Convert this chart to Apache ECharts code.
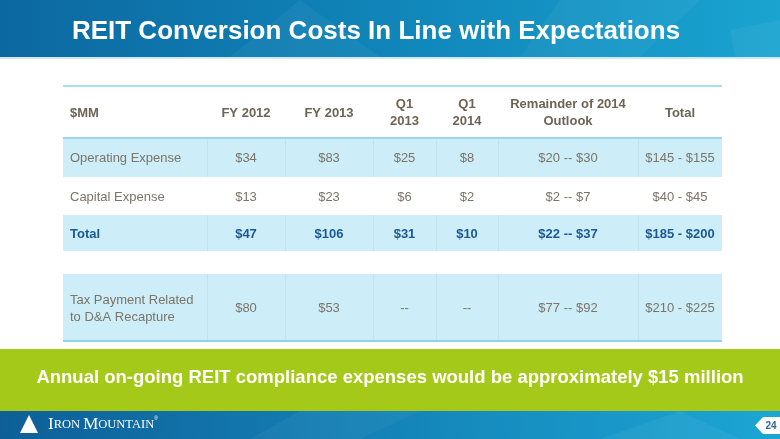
<!DOCTYPE html>
<html><head><meta charset="utf-8">
<script src="https://cdn.jsdelivr.net/npm/echarts@6/dist/echarts.min.js"></script>
<style>html,body{margin:0;padding:0;background:#fff}#c{width:780px;height:439px}</style>
</head><body><div id="c"></div>
<script>
// ---- data ----
const title = 'REIT Conversion Costs In Line with Expectations';
const headers = ['$MM', 'FY 2012', 'FY 2013', 'Q1\n2013', 'Q1\n2014', 'Remainder of 2014\nOutlook', 'Total'];
const rowLabels = ['Operating Expense', 'Capital Expense', 'Total', 'Tax Payment Related\nto D&A Recapture'];
const operatingExpense = ['$34', '$83', '$25', '$8', '$20 -- $30', '$145 - $155'];
const capitalExpense = ['$13', '$23', '$6', '$2', '$2 -- $7', '$40 - $45'];
const totalCosts = ['$47', '$106', '$31', '$10', '$22 -- $37', '$185 - $200'];
const taxPayment = ['$80', '$53', '--', '--', '$77 -- $92', '$210 - $225'];
const footnote = 'Annual on-going REIT compliance expenses would be approximately $15 million';
const pageNumber = '24';

// ---- layout (not data) ----
const colEdges = [0, 144, 222, 310, 373, 435, 575, 659];
const rowEdges = [[0, 52], [52, 91], [91, 129], [129, 165], [188, 255]];
const rowKinds = ['header', 'band', 'plain', 'total', 'band'];
const FONT = "'Liberation Sans', Arial, sans-serif";

const bodyRows = [operatingExpense, capitalExpense, totalCosts, taxPayment];
const cells = [];
headers.forEach((h, c) => cells.push([c, 0, h]));
bodyRows.forEach((vals, r) => {
  cells.push([0, r + 1, rowLabels[r]]);
  vals.forEach((v, c) => cells.push([c + 1, r + 1, v]));
});

function renderCell(params, api) {
  const d = cells[params.dataIndex];
  const col = d[0], row = d[1], txt = d[2];
  const kind = rowKinds[row];
  const p0 = api.coord([colEdges[col], rowEdges[row][0]]);
  const p1 = api.coord([colEdges[col + 1], rowEdges[row][1]]);
  const children = [];
  if (kind === 'band' || kind === 'total') {
    children.push({ type: 'rect', shape: { x: p0[0], y: p0[1], width: p1[0] - p0[0], height: p1[1] - p0[1] },
      style: { fill: '#cdeef8' } });
    if (col > 0) children.push({ type: 'line', shape: { x1: p0[0] + 0.5, y1: p0[1], x2: p0[0] + 0.5, y2: p1[1] },
      style: { stroke: '#bfe4f0', lineWidth: 1 } });
  }
  let fill = '#7c7467', weight = 'normal';
  if (kind === 'header') { fill = '#6c6455'; weight = 'bold'; }
  if (kind === 'total') { fill = '#1c5896'; weight = 'bold'; }
  const left = col === 0;
  children.push({ type: 'text', style: {
    text: txt, x: left ? p0[0] + 7 : (p0[0] + p1[0]) / 2, y: (p0[1] + p1[1]) / 2 + 1,
    align: left ? 'left' : 'center', verticalAlign: 'middle',
    fontFamily: FONT, fontSize: 13, fontWeight: weight, fill: fill, lineHeight: 17 } });
  return { type: 'group', children: children };
}

const ruleYs = [0, 52, 255];
const ruleColors = ['#a9e0f0', '#9bd8ec', '#8fd3ea'];
function renderRule(params, api) {
  const y = ruleYs[params.dataIndex];
  const a = api.coord([colEdges[0], y]), b = api.coord([colEdges[colEdges.length - 1], y]);
  return { type: 'line', shape: { x1: a[0], y1: a[1], x2: b[0], y2: b[1] },
    style: { stroke: ruleColors[params.dataIndex], lineWidth: 2 } };
}

const chart = echarts.init(document.getElementById('c'), null, { renderer: 'canvas' });
const blueGrad = new echarts.graphic.LinearGradient(0, 0, 1, 0, [
  { offset: 0, color: '#0c68a1' }, { offset: 0.55, color: '#1188bb' }, { offset: 1, color: '#1aa4d0' }]);
const blueGrad2 = new echarts.graphic.LinearGradient(0, 0, 1, 0, [
  { offset: 0, color: '#0e5f98' }, { offset: 0.55, color: '#1587bb' }, { offset: 1, color: '#1ca6d3' }]);

chart.setOption({
  animation: false,
  grid: { left: 63, top: 86, width: 659, height: 255 },
  xAxis: { type: 'value', min: 0, max: 659, show: false },
  yAxis: { type: 'value', min: 0, max: 255, inverse: true, show: false },
  graphic: [
    // header band
    { type: 'rect', shape: { x: 0, y: 0, width: 780, height: 57 }, style: { fill: blueGrad }, z: 0 },
    { type: 'polygon', shape: { points: [[300, 0], [380, 57], [230, 57]] }, style: { fill: 'rgba(255,255,255,0.04)' } },
    { type: 'polygon', shape: { points: [[560, 0], [700, 0], [640, 57], [520, 57]] }, style: { fill: 'rgba(255,255,255,0.04)' } },
    { type: 'polygon', shape: { points: [[730, 30], [780, 20], [780, 57], [735, 57]] }, style: { fill: 'rgba(255,255,255,0.05)' } },
    { type: 'rect', shape: { x: 0, y: 57, width: 780, height: 2 }, style: { fill: '#cfe9f2' } },
    { type: 'text', style: { text: title, x: 376, y: 32, align: 'center', verticalAlign: 'middle',
      fontFamily: FONT, fontSize: 26, fontWeight: 'bold', fill: '#ffffff' } },
    // green band
    { type: 'rect', shape: { x: 0, y: 349, width: 780, height: 62 }, style: { fill: '#a5c918' } },
    { type: 'text', style: { text: footnote, x: 390, y: 378, align: 'center', verticalAlign: 'middle',
      fontFamily: FONT, fontSize: 18.5, fontWeight: 'bold', fill: '#ffffff' } },
    // footer band
    { type: 'rect', shape: { x: 0, y: 411, width: 780, height: 28 }, style: { fill: blueGrad2 } },
    { type: 'polygon', shape: { points: [[300, 411], [420, 411], [360, 439], [250, 439]] }, style: { fill: 'rgba(255,255,255,0.04)' } },
    { type: 'polygon', shape: { points: [[600, 439], [680, 411], [740, 439]] }, style: { fill: 'rgba(255,255,255,0.05)' } },
    // logo
    { type: 'polygon', shape: { points: [[29, 415], [38, 433], [20, 433]] }, style: { fill: '#ffffff' } },
    { type: 'text', style: { x: 48, y: 433, align: 'left', verticalAlign: 'bottom',
      text: '{b|I}{s|RON }{b|M}{s|OUNTAIN}{r|®}',
      rich: {
        b: { fontFamily: "'Liberation Serif', 'Times New Roman', serif", fontSize: 17, fill: '#ffffff', color: '#ffffff' },
        s: { fontFamily: "'Liberation Serif', 'Times New Roman', serif", fontSize: 12.5, fill: '#ffffff', color: '#ffffff' },
        r: { fontFamily: FONT, fontSize: 5, fill: '#ffffff', color: '#ffffff', verticalAlign: 'top' }
      } } },
    // page tab
    { type: 'polygon', shape: { points: [[755, 425.5], [763, 417], [780, 417], [780, 434], [763, 434]] }, style: { fill: '#ffffff' } },
    { type: 'text', style: { text: pageNumber, x: 771, y: 426, align: 'center', verticalAlign: 'middle',
      fontFamily: FONT, fontSize: 10, fontWeight: 'bold', fill: '#2d6496' } }
  ],
  series: [
    { type: 'custom', name: 'cells', renderItem: renderCell, data: cells.map(d => [d[0], d[1]]), clip: false, z: 2 },
    { type: 'custom', name: 'rules', renderItem: renderRule, data: ruleYs.map(y => [0, y]), clip: false, z: 3 }
  ]
});
</script></body></html>
